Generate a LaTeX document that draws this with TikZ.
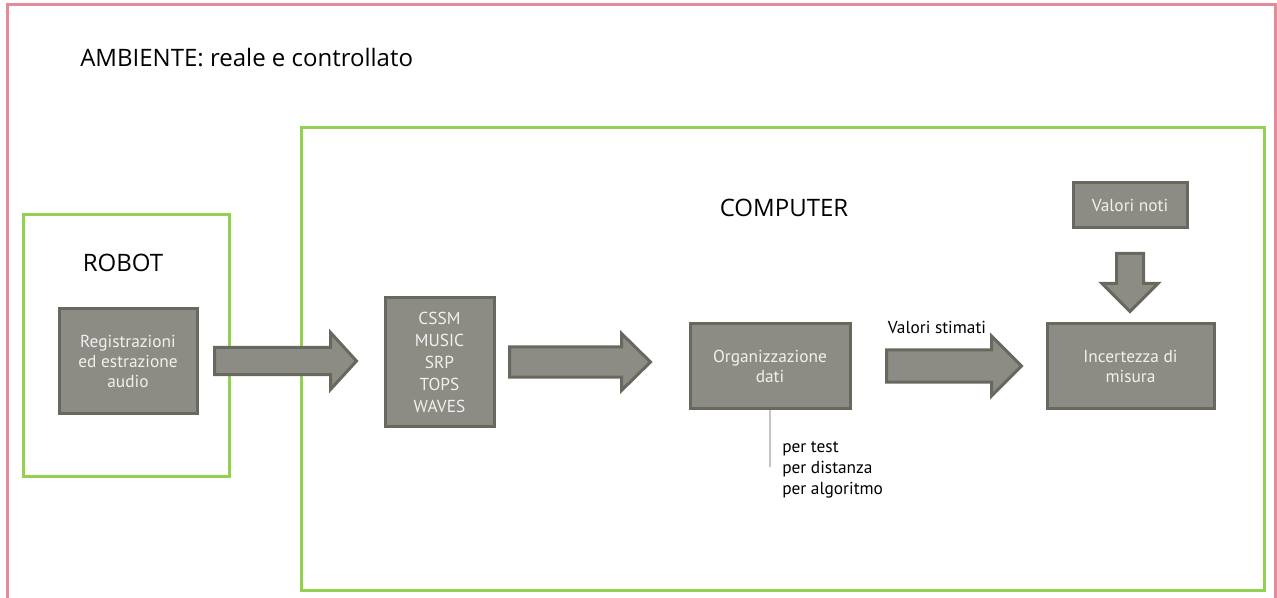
\documentclass[tikz,border=0pt]{standalone}
\usepackage{fontspec}
\setmainfont{PT Sans}
\newfontfamily\headfont{Open Sans}
\usetikzlibrary{calc}

\definecolor{envpink}{HTML}{E58A98}
\definecolor{framegreen}{HTML}{92D050}
\definecolor{boxfill}{HTML}{8C8C84}
\definecolor{boxedge}{HTML}{68685F}
\definecolor{boxtext}{HTML}{F0F0F0}
\definecolor{leader}{HTML}{C4C4C4}

\tikzset{
  block/.style={draw=boxedge, fill=boxfill, line width=2.25pt, text=boxtext,
    align=center, inner sep=0pt, font=\fontsize{13}{15}\selectfont},
  boxsize/.style 2 args={minimum width=#1*0.75pt, minimum height=#2*0.75pt},
  region/.style={draw=framegreen, line width=2.25pt},
  heading/.style={font=\headfont\fontsize{18}{21}\selectfont, text=black, inner sep=0pt},
  note/.style={font=\fontsize{13}{15.75}\selectfont, text=black, align=left, inner sep=0pt},
  fatarrow/.style={draw=boxedge, fill=boxfill, line width=2.25pt, line join=miter},
}

% horizontal block arrow: tail, tip, shaft half-height, head half-height, head length
\newcommand\hfat[5]{%
  \draw[fatarrow] ($(#1)+(0,-#3)$) -- ($(#2)+(-#5,-#3)$) -- ($(#2)+(-#5,-#4)$) -- (#2)
    -- ($(#2)+(-#5,#4)$) -- ($(#2)+(-#5,#3)$) -- ($(#1)+(0,#3)$) -- cycle;}
% vertical block arrow pointing down
\newcommand\vfat[5]{%
  \draw[fatarrow] ($(#1)+(-#3,0)$) -- ($(#2)+(-#3,-#5)$) -- ($(#2)+(-#4,-#5)$) -- (#2)
    -- ($(#2)+(#4,-#5)$) -- ($(#2)+(#3,-#5)$) -- ($(#1)+(#3,0)$) -- cycle;}

\begin{document}
\begin{tikzpicture}[x=0.75pt, y=-0.75pt]
\useasboundingbox (0,0) rectangle (1277,598);
\clip (0,0) rectangle (1277,598);
\fill[white] (0,0) rectangle (1277,598);

% environment
\draw[envpink, line width=2.25pt] (7,5) rectangle (1275,640);
\node[heading, anchor=west] (amb) at (80,58) {AMBIENTE: reale e controllato};

% robot
\draw[region] (23,215) rectangle (229,476);
\node[heading] (robot) at (123,263) {ROBOT};
\node[block, boxsize={138}{104}] (reg) at (128,361) {Registrazioni\\ed estrazione\\audio};

% computer
\draw[region] (301,128) rectangle (1264,590);
\node[heading] (computer) at (784,208) {COMPUTER};
\node[block, boxsize={109}{128}, font=\fontsize{13}{16.5}\selectfont] (algo) at (439.5,362)
  {CSSM\\MUSIC\\SRP\\TOPS\\WAVES};
\node[block, boxsize={160}{84}] (org) at (770,366) {Organizzazione\\dati};
\node[block, boxsize={114}{45}] (noti) at (1130,205.5) {Valori noti};
\node[block, boxsize={167}{84}] (inc) at (1130.5,366) {Incertezza di\\misura};

% block arrows
\coordinate (a1s) at ($(reg.east)+(16,0)$);
\coordinate (a1e) at ($(a1s -| algo.west)+(-27,0)$);
\hfat{a1s}{a1e}{13.5}{28.5}{26}
\coordinate (a2s) at ($(algo.east)+(14,0)$);
\coordinate (a2e) at ($(a2s -| org.west)+(-38,0)$);
\hfat{a2s}{a2e}{15}{28.5}{29}
\coordinate (a3s) at ($(org.east)+(35,0)$);
\coordinate (a3e) at ($(a3s -| inc.west)+(-24,0)$);
\hfat{a3s}{a3e}{16}{30}{30}
\coordinate (a4s) at ($(noti.south)+(0,24)$);
\coordinate (a4e) at ($(a4s |- inc.north)+(0,-11)$);
\vfat{a4s}{a4e}{13.5}{28}{28}

\node[note] (stim) at (937,327) {Valori stimati};

% grouping criteria
\coordinate (lead) at ($(org.south)+(0,57)$);
\draw[leader, line width=1.2pt] (org.south) -- (lead);
\node[note, anchor=north west] (crit) at (782,441) {per test\\per distanza\\per algoritmo};
\end{tikzpicture}
\end{document}
